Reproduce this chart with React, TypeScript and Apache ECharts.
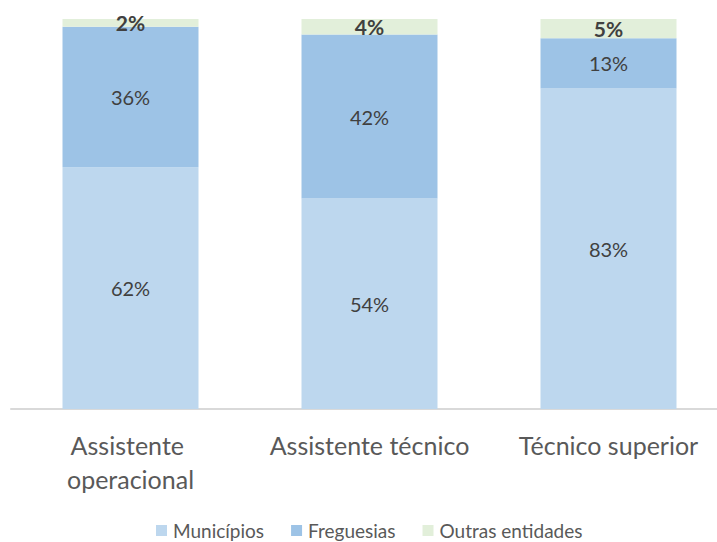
import React, { useEffect, useRef } from "react";
import * as echarts from "echarts";

const categories = ["Assistente operacional", "Assistente técnico", "Técnico superior"];
const municipios = [62, 54, 83];
const freguesias = [36, 42, 13];
const outras = [2, 4, 5];
const seriesNames = ["Municípios", "Freguesias", "Outras entidades"];
const colors = ["#BDD7EE", "#9DC3E6", "#E2EFDA"];

export default function App() {
  const ref = useRef<HTMLDivElement>(null);
  useEffect(() => {
    if (!ref.current) return;
    const chart = echarts.init(ref.current, undefined, { renderer: "svg" });
    const raw = [municipios, freguesias, outras];
    const totals = categories.map((_, i) => raw.reduce((s, arr) => s + arr[i], 0));
    const font = "Lato, 'Open Sans', sans-serif";
    const series = raw.map((arr, k) => ({
      name: seriesNames[k],
      type: "bar",
      stack: "total",
      barWidth: 136,
      itemStyle: { color: colors[k] },
      data: arr.map((v, i) => ({ value: (v / totals[i]) * 100, raw: v })),
      label: {
        show: true,
        position: "inside",
        fontFamily: font,
        fontSize: k === 2 ? 21 : 20,
        fontWeight: k === 2 ? "bold" : "normal",
        color: "#404040",
        formatter: (p: any) => `${p.data.raw}%`,
      },
    }));
    chart.setOption({
      animation: false,
      textStyle: { fontFamily: font },
      grid: { left: 11, top: 19, bottom: 133, right: 12 },
      xAxis: {
        type: "category",
        data: categories,
        axisLine: { lineStyle: { color: "#D9D9D9", width: 2 } },
        axisTick: { show: false },
        axisLabel: {
          color: "#595959",
          fontFamily: font,
          fontSize: 25,
          lineHeight: 34,
          margin: 19,
          width: 225,
          overflow: "break",
          interval: 0,
        },
      },
      yAxis: { type: "value", min: 0, max: 100, show: false, splitLine: { show: false } },
      legend: {
        left: 156,
        top: 521,
        padding: 0,
        icon: "rect",
        itemWidth: 11,
        itemHeight: 11,
        itemGap: 27,
        textStyle: { color: "#595959", fontFamily: font, fontSize: 19, padding: [0, 0, 0, 1] },
        data: seriesNames,
      },
      series,
    });
    return () => chart.dispose();
  }, []);
  return (
    <div style={{ position: "fixed", left: 0, top: 0, width: 717, height: 542, background: "#fff", overflow: "hidden" }}>
      <div ref={ref} style={{ width: 740, height: 542 }} />
    </div>
  );
}
